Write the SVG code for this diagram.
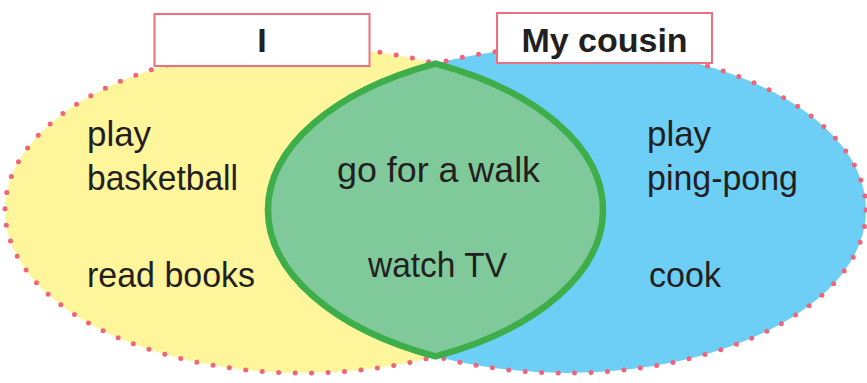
<svg xmlns="http://www.w3.org/2000/svg" width="867" height="383" viewBox="0 0 867 383">
<style>
.dots{stroke:#F0647A;stroke-width:5;stroke-linecap:round;stroke-dasharray:0 16.5;fill:none}
.lbl{font-family:"Liberation Sans",Arial,sans-serif;font-size:35px;fill:#231F20}
.ttl{font-family:"Liberation Sans",Arial,sans-serif;font-size:34px;font-weight:bold;fill:#231F20;text-anchor:middle}
.box{fill:#FFFFFF;stroke:#EE6E82;stroke-width:2}
</style>
<rect width="867" height="383" fill="#FFFFFF"/>
<g id="set-me">
<ellipse cx="304" cy="210" rx="299" ry="163" fill="#FFF59A"/>
</g>
<g id="set-cousin">
<ellipse cx="567" cy="210" rx="299" ry="163" fill="#6DCFF6"/>
</g>
<g id="outlines">
<ellipse class="dots" cx="304" cy="210" rx="299" ry="163"/>
<ellipse class="dots" cx="567" cy="210" rx="299" ry="163"/>
</g>
<g id="both">
<path d="M435.5 63.6 A299 163 0 0 0 435.5 356.4 A299 163 0 0 0 435.5 63.6 Z" fill="#80C99B" stroke="#3DAE4A" stroke-width="6.5" stroke-linejoin="miter"/>
</g>
<g id="title-me">
<rect class="box" x="154.5" y="14" width="215" height="52"/>
<text class="ttl" x="262" y="52">I</text>
</g>
<g id="title-cousin">
<rect class="box" x="497" y="13" width="215" height="50"/>
<text class="ttl" x="604.5" y="52">My cousin</text>
</g>
<g id="me-items">
<text class="lbl" x="87" y="146" textLength="64" lengthAdjust="spacingAndGlyphs">play</text>
<text class="lbl" x="87" y="190" textLength="151" lengthAdjust="spacingAndGlyphs">basketball</text>
<text class="lbl" x="87" y="287" textLength="168" lengthAdjust="spacingAndGlyphs">read books</text>
</g>
<g id="both-items">
<text class="lbl" x="337" y="182" textLength="203" lengthAdjust="spacingAndGlyphs">go for a walk</text>
<text class="lbl" x="368" y="277" textLength="139" lengthAdjust="spacingAndGlyphs">watch TV</text>
</g>
<g id="cousin-items">
<text class="lbl" x="647" y="146" textLength="64" lengthAdjust="spacingAndGlyphs">play</text>
<text class="lbl" x="647" y="190" textLength="151" lengthAdjust="spacingAndGlyphs">ping-pong</text>
<text class="lbl" x="649" y="287" textLength="72" lengthAdjust="spacingAndGlyphs">cook</text>
</g>
</svg>
